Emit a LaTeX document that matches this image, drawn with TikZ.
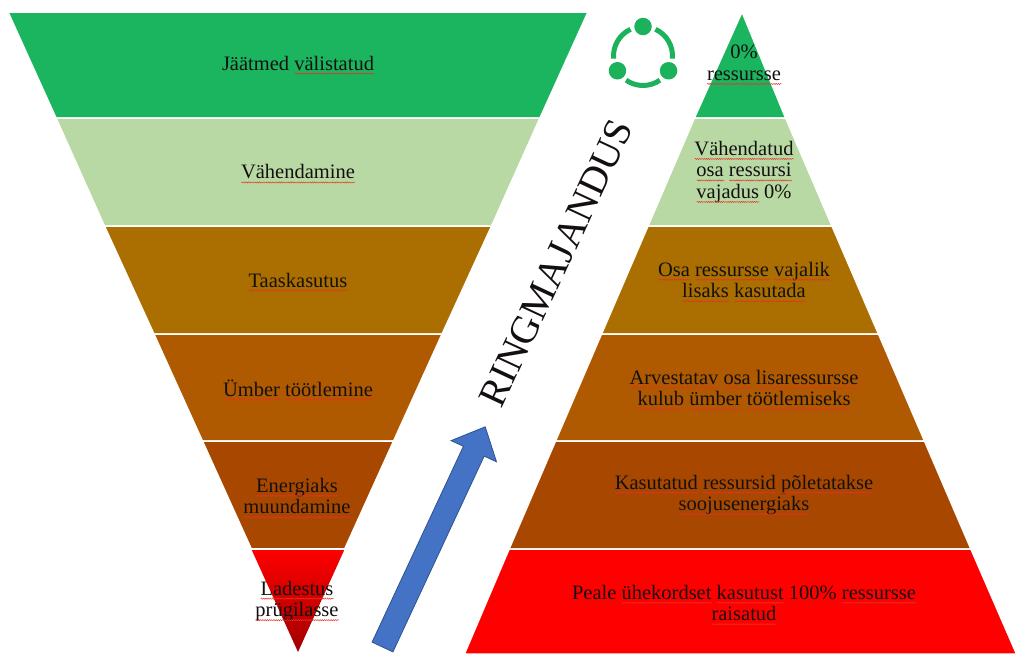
\documentclass[tikz,border=0pt]{standalone}
\usepackage{fontspec}
\setmainfont{Liberation Serif}
\usetikzlibrary{decorations.pathmorphing}
\definecolor{cGreen}{HTML}{1BB55F}
\definecolor{cLight}{HTML}{B8D9A3}
\definecolor{cGold}{HTML}{AA6F00}
\definecolor{cOrange}{HTML}{AF5900}
\definecolor{cBrown}{HTML}{A84800}
\definecolor{cRed}{HTML}{FF0000}
\definecolor{cDark}{HTML}{A00000}
\definecolor{cIcon}{HTML}{1CB25C}
\definecolor{cArrow}{HTML}{4472C4}
\definecolor{cArrowLine}{HTML}{2F528F}
\definecolor{cSq}{HTML}{E8302A}
\definecolor{cText}{HTML}{141010}
\tikzset{
  band/.style={draw=white, line width=1.5pt, line join=round},
  lbl/.style={align=center, inner sep=0pt, text=cText, font=\fontsize{20.5}{21.5}\selectfont},
  sqline/.style={draw=cSq, line width=0.45pt, decorate, decoration={snake, amplitude=0.6pt, segment length=2.2pt}},
  ring/.style={draw=cIcon, line width=5pt},
  dot/.style={circle, fill=cIcon, inner sep=0pt, minimum size=17.5pt},
  blockarrow/.style={fill=cArrow, draw=cArrowLine, line width=0.8pt, line join=miter},
}
\newsavebox\sqbox
\newcommand\sq[1]{\sbox\sqbox{#1}\leavevmode\rlap{\usebox\sqbox}\raisebox{-3.5pt}[0pt][0pt]{\makebox[\wd\sqbox][l]{\tikz[x=1pt,y=1pt,baseline=0pt]\draw[sqline] (0,0) -- (\wd\sqbox,0);}}}
\begin{document}
\begin{tikzpicture}[x=1pt,y=-1pt]
\useasboundingbox (0,0) rectangle (1016,653);
\fill[white] (0,0) rectangle (1016,653);
% left inverted triangle
\path[band, fill=cGreen]  (8,12) -- (588,12) -- (540,118) -- (56,118) -- cycle;
\path[band, fill=cLight]  (56,118) -- (540,118) -- (491.6,226) -- (104.4,226) -- cycle;
\path[band, fill=cGold]   (104.4,226) -- (491.6,226) -- (442.1,334) -- (153.9,334) -- cycle;
\path[band, fill=cOrange] (153.9,334) -- (442.1,334) -- (393.6,441) -- (202.4,441) -- cycle;
\path[band, fill=cBrown]  (202.4,441) -- (393.6,441) -- (344.7,549) -- (251.3,549) -- cycle;
\shade[top color=cRed, middle color=cRed!94!black, bottom color=cDark] (251.3,549) -- (344.7,549) -- (298,652) -- cycle;
\draw[white, line width=1.5pt] (251.3,549) -- (344.7,549);
% right pyramid
\path[band, fill=cGreen]  (742,12) -- (785.6,118) -- (694.4,118) -- cycle;
\path[band, fill=cLight]  (694.4,118) -- (785.6,118) -- (832,226) -- (648,226) -- cycle;
\path[band, fill=cGold]   (648,226) -- (832,226) -- (878.5,334) -- (601.5,334) -- cycle;
\path[band, fill=cOrange] (601.5,334) -- (878.5,334) -- (924.5,441) -- (555.5,441) -- cycle;
\path[band, fill=cBrown]  (555.5,441) -- (924.5,441) -- (970.9,549) -- (509.1,549) -- cycle;
\path[band, fill=cRed]    (509.1,549) -- (970.9,549) -- (1016.5,654) -- (464.4,654) -- cycle;
% left labels
\node[lbl] (l1) at (298,63)  {Jäätmed \sq{välistatud}};
\node[lbl] (l2) at (298,172) {\sq{Vähendamine}};
\node[lbl] (l3) at (298,280) {\sq{Taaskasutus}};
\node[lbl] (l4) at (298,388) {\sq{Ümber} \sq{töötlemine}};
\node[lbl] (l5) at (297,496) {\sq{Energiaks}\\\sq{muundamine}};
\node[lbl] (l6) at (297,601) {\sq{Ladestus}\\\sq{prügilasse}};
% right labels
\node[lbl] (r1) at (744,63)  {0\%\\\sq{ressursse}};
\node[lbl] (r2) at (744,172) {\sq{Vähendatud}\\\sq{osa} \sq{ressursi}\\\sq{vajadus} 0\%};
\node[lbl] (r3) at (744,280) {\sq{Osa} \sq{ressursse} \sq{vajalik}\\\sq{lisaks} \sq{kasutada}};
\node[lbl] (r4) at (744,388) {\sq{Arvestatav} \sq{osa} \sq{lisaressursse}\\\sq{kulub} \sq{ümber} \sq{töötlemiseks}};
\node[lbl] (r5) at (744,495) {\sq{Kasutatud} \sq{ressursid} \sq{põletatakse}\\\sq{soojusenergiaks}};
\node[lbl] (r6) at (744,603) {Peale \sq{ühekordset} \sq{kasutust} 100\% \sq{ressursse}\\\sq{raisatud}};
% ribbon text
\node[rotate=65, inner sep=0pt, text=cText, font=\fontsize{39.5}{41}\selectfont] (rm) at (556,263) {RINGMAJANDUS};
% arrow
\filldraw[blockarrow] (372.1,642.1) -- (463.4,446.3) -- (451.1,440.6) -- (485.2,426.8) -- (496.5,461.8) -- (484.2,456.1) -- (392.9,651.9) -- cycle;
% icon
\coordinate (ic) at (643,56);
\draw[ring] ([shift={(175:29.5)}]ic) arc[start angle=175, end angle=245, radius=29.5];
\draw[ring] ([shift={(55:29.5)}]ic) arc[start angle=55, end angle=125, radius=29.5];
\draw[ring] ([shift={(295:29.5)}]ic) arc[start angle=295, end angle=365, radius=29.5];
\node[dot] (d1) at ([shift={(270:29.5)}]ic) {};
\node[dot] (d2) at ([shift={(150:29.5)}]ic) {};
\node[dot] (d3) at ([shift={(30:29.5)}]ic) {};
\end{tikzpicture}
\end{document}
